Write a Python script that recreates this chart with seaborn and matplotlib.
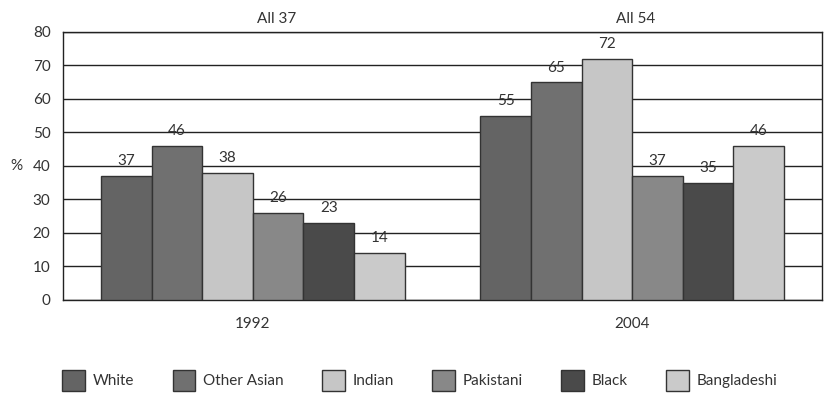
import matplotlib
matplotlib.use("Agg")
import matplotlib.pyplot as plt
import seaborn as sns
import pandas as pd
from matplotlib.ticker import FixedLocator

# Survey years and ethnic groups
years = ["1992", "2004"]
groups = ["White", "Other Asian", "Indian", "Pakistani", "Black", "Bangladeshi"]
values_1992 = [37, 46, 38, 26, 23, 14]
values_2004 = [55, 65, 72, 37, 35, 46]
overall_labels = ["All 37", "All 54"]
y_ticks = [0, 10, 20, 30, 40, 50, 60, 70, 80]

group_colors = ["#646464", "#707070", "#c6c6c6", "#888888", "#4a4a4a", "#cacaca"]

df = pd.DataFrame({
    "year": [years[0]] * len(groups) + [years[1]] * len(groups),
    "group": groups + groups,
    "value": values_1992 + values_2004,
})

sns.set_theme(style="white")
plt.rcParams["font.family"] = ["Lato", "DejaVu Sans"]
plt.rcParams["font.size"] = 10.5

fig = plt.figure(figsize=(8.25, 3.94), dpi=100)
ax = fig.add_axes([0.0764, 0.2386, 0.92, 0.6802])

sns.barplot(data=df, x="year", y="value", hue="group", order=years,
            hue_order=groups, palette=group_colors, width=0.8,
            edgecolor="#333333", linewidth=1.0, saturation=1, ax=ax,
            legend=True, zorder=3)

for cont in ax.containers:
    ax.bar_label(cont, padding=5.5, fontsize=11, color="#333333")

ax.set_ylim(0, 80)
ax.set_xlim(-0.5, 1.5)
ax.set_yticks(y_ticks)
ax.yaxis.grid(True, color="#222222", linewidth=1.0, zorder=0)
ax.set_axisbelow(True)
for s in ax.spines.values():
    s.set_color("#222222")
    s.set_linewidth(1.0)

ax.tick_params(axis="both", length=0, labelsize=11, colors="#333333")
ax.tick_params(axis="x", pad=12)
ax.tick_params(axis="y", pad=9)
ax.xaxis.set_minor_locator(FixedLocator([0.5]))
ax.tick_params(axis="x", which="minor", direction="in", length=4,
               width=1, color="#222222")

ax.set_xlabel("")
ax.set_ylabel("%", rotation=0, labelpad=12, fontsize=11, color="#333333",
              va="center")

for xpos, txt in zip([0.064, 1.01], overall_labels):
    ax.text(xpos, 81.8, txt, ha="center", va="bottom", fontsize=11,
            color="#333333")

handles, labels = ax.get_legend_handles_labels()
ax.legend(handles, labels, loc="center", bbox_to_anchor=(0.47, -0.30),
          ncol=6, frameon=False, handlelength=1.5, handleheight=1.7,
          handletextpad=0.5, columnspacing=2.5, fontsize=11,
          labelcolor="#333333")

fig.savefig("out.png", dpi=100)
